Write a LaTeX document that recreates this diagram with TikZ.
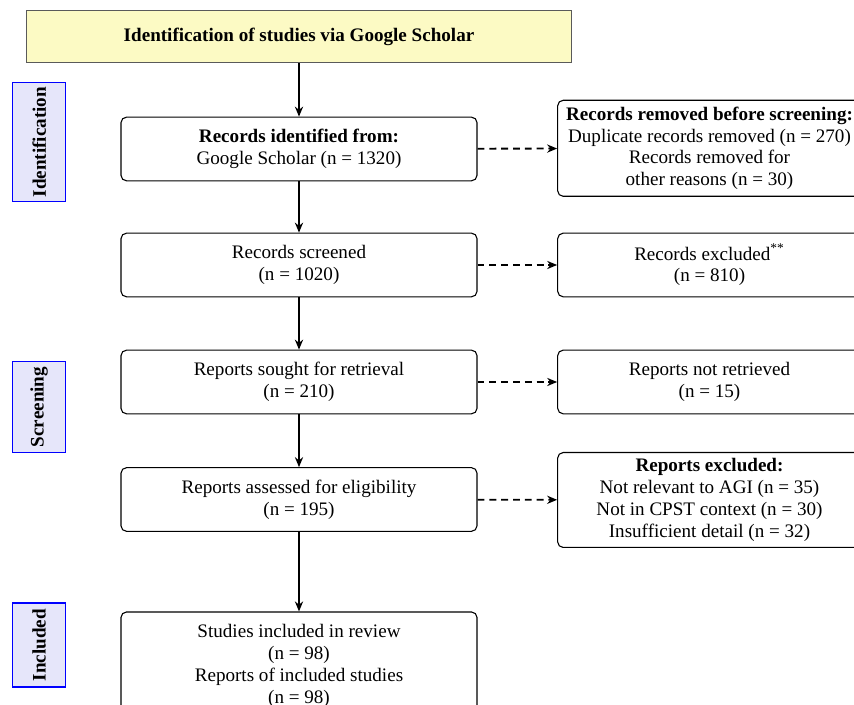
\documentclass[tikz,border=0pt]{standalone}
\usepackage{fontspec}
\setmainfont{Liberation Serif}
\usetikzlibrary{arrows.meta}
\definecolor{bannerfill}{RGB}{252,250,196}
\definecolor{bannerdraw}{RGB}{90,90,90}
\definecolor{stagefill}{RGB}{230,230,250}
\tikzset{
  banner/.style={draw=bannerdraw, fill=bannerfill, line width=0.6pt, minimum width=300pt, minimum height=29pt, font=\bfseries, inner sep=0pt},
  leftbox/.style={draw, rounded corners=3pt, line width=0.6pt, minimum width=195.8pt, minimum height=35pt, align=center, inner sep=0pt},
  rightbox/.style={draw, rounded corners=3pt, line width=0.6pt, minimum width=167pt, minimum height=35pt, align=center, inner sep=0pt},
  stage/.style={draw=blue, fill=stagefill, line width=0.6pt, rotate=90, minimum height=29.2pt, font=\bfseries, inner sep=0pt},
  flow/.style={-{Stealth[length=5.5pt,width=4.5pt]}, line width=0.9pt},
  side/.style={-{Stealth[length=5.5pt,width=4.5pt]}, line width=1pt, dash pattern=on 3.8pt off 2.7pt}
}
\begin{document}
\fontsize{10.5}{12}\selectfont
\begin{tikzpicture}[x=0.55pt,y=-0.55pt]
\useasboundingbox (0,0) rectangle (854,705);
\node[banner] (top) at (299,36.5) {Identification of studies via Google Scholar};
\node[stage, minimum width=65.5pt] (s1) at (39.2,142.2) {Identification};
\node[stage, minimum width=50.5pt] (s2) at (39.2,407) {Screening};
\node[stage, minimum width=46.2pt] (s3) at (39.2,645) {Included};

\node[leftbox] (b1) at (299,149) {\textbf{Records identified from:}\\Google Scholar (n = 1320)};
\node[leftbox] (b2) at (299,265) {Records screened\\(n = 1020)};
\node[leftbox] (b3) at (299,382) {Reports sought for retrieval\\(n = 210)};
\node[leftbox] (b4) at (299,499.5) {Reports assessed for eligibility\\(n = 195)};
\node[leftbox, minimum height=59.4pt] (b5) at (299,666) {Studies included in review\\(n = 98)\\Reports of included studies\\(n = 98)};

\node[rightbox, minimum height=52.8pt] (r1) at (709.5,148.3) {\textbf{Records removed before screening:}\\Duplicate records removed (n = 270)\\Records removed for\\other reasons (n = 30)};
\node[rightbox] (r2) at (709.5,265) {Records excluded\textsuperscript{**}\\(n = 810)};
\node[rightbox] (r3) at (709.5,382) {Reports not retrieved\\(n = 15)};
\node[rightbox, minimum height=52.2pt] (r4) at (709.5,500) {\textbf{Reports excluded:}\\Not relevant to AGI (n = 35)\\Not in CPST context (n = 30)\\Insufficient detail (n = 32)};

\draw[flow] (top) -- (b1);
\draw[flow] (b1) -- (b2);
\draw[flow] (b2) -- (b3);
\draw[flow] (b3) -- (b4);
\draw[flow] (b4) -- (b5);
\draw[side] (b1) -- (r1);
\draw[side] (b2) -- (r2);
\draw[side] (b3) -- (r3);
\draw[side] (b4) -- (r4);
\end{tikzpicture}
\end{document}
